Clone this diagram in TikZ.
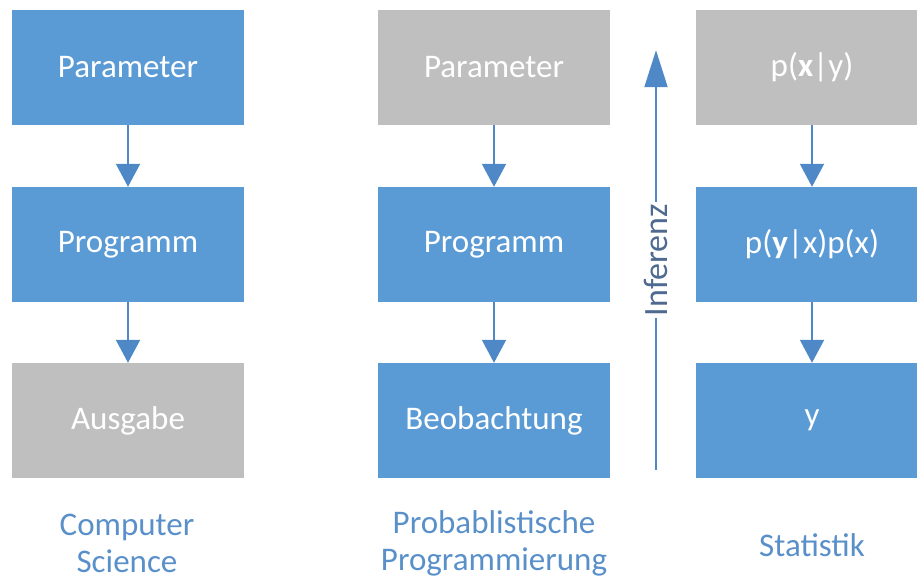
\documentclass[tikz,border=0pt]{standalone}
\usepackage{fontspec}
\setmainfont{Carlito}
\usepackage{tikz}
\usetikzlibrary{arrows.meta}
\definecolor{boxblue}{HTML}{5B9BD5}
\definecolor{boxgray}{HTML}{BFBFBF}
\definecolor{arrowblue}{HTML}{4F88C6}
\definecolor{labelblue}{HTML}{5A90CA}
\definecolor{infgray}{HTML}{4E6A8E}
\tikzset{stage/.style={rectangle, draw=none, fill=boxblue, text=white,
        minimum width=232pt, minimum height=115pt, inner sep=0pt,
        font=\fontsize{33}{39}\selectfont},
    given/.style={stage, fill=boxgray},
    flow/.style={draw=arrowblue, line width=2pt,
        -{Triangle[width=24pt, length=23pt]}},
    caption/.style={draw=none, fill=none, align=center, text=labelblue,
        font=\fontsize{33}{37}\selectfont},
    empty/.style={draw=none, fill=none, minimum size=0mm, inner sep=0mm}}

\begin{document}
\begin{tikzpicture}[x=1pt, y=-1pt]
    \useasboundingbox (0, 0) rectangle (917, 581);
    \clip (0, 0) rectangle (917, 581);

    \node (csp) at (128, 67.5) [stage] {Parameter};
    \node (csg) at (128, 244.5) [stage] {Programm};
    \node (csa) at (128, 420.5) [given] {Ausgabe};

    \draw (csp) edge [flow] (csg);
    \draw (csg) edge [flow] (csa);

    \node (ppp) at (494, 67.5) [given] {Parameter};
    \node (ppg) at (494, 244.5) [stage] {Programm};
    \node (ppb) at (494, 420.5) [stage] {Beobachtung};

    \draw (ppp) edge [flow] (ppg);
    \draw (ppg) edge [flow] (ppb);

    \node (ib) [empty] at (656, 470) {};
    \node (it) [empty] at (656, 50) {};

    \draw (ib) edge [draw=arrowblue, line width=2pt,
            -{Triangle[width=23pt, length=37pt]}]
        node[rotate=90, fill=white, inner sep=2pt, text=infgray,
                font=\fontsize{34}{40}\selectfont]
            {Inferenz}
        (it);

    \node (stp) at (812, 67.5) [given] {p(\textbf{x}|y)};
    \node (stl) at (812, 244.5) [stage] {p(\textbf{y}|x)p(x)};
    \node (sty) at (812, 420.5) [stage] {y};

    \draw (stp) edge [flow] (stl);
    \draw (stl) edge [flow] (sty);

    \node (cscap) at (127, 543) [caption] {Computer\\Science};
    \node (ppcap) at (494, 543) [caption] {Probablistische\\Programmierung};
    \node (stcap) at (812, 545) [caption] {Statistik};
\end{tikzpicture}
\end{document}
